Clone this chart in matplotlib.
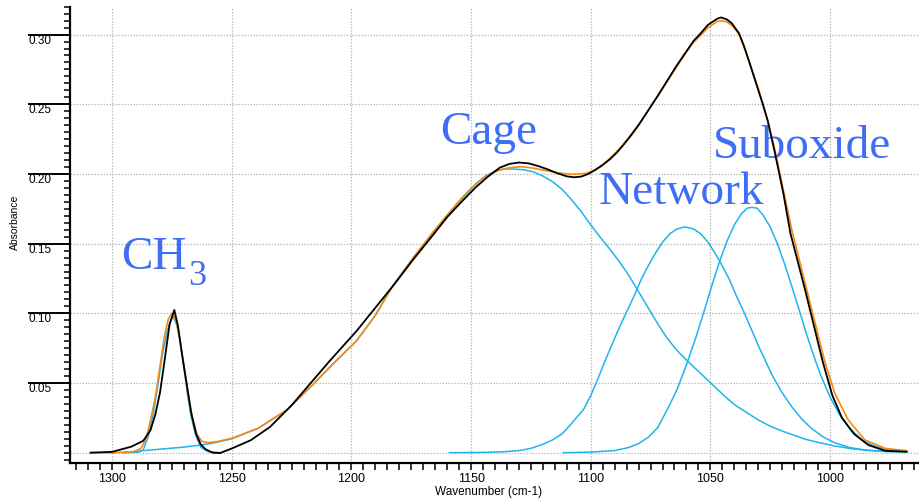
import matplotlib
matplotlib.use("Agg")
import matplotlib.pyplot as plt
from matplotlib.ticker import MultipleLocator, FixedLocator, FormatStrFormatter

# measured spectrum (black)
wn_meas = [1309, 1300, 1292, 1287, 1284, 1282, 1280, 1278, 1276, 1274, 1272.5, 1271,
           1269, 1267, 1265, 1263, 1261, 1258, 1255, 1250, 1242, 1234, 1225, 1217,
           1209, 1198, 1190, 1182, 1174, 1166, 1160, 1154, 1148, 1143, 1138, 1134,
           1130, 1126, 1122, 1118, 1114, 1110, 1107, 1104, 1101, 1098, 1095, 1092,
           1089, 1086, 1083, 1080, 1076, 1072, 1068, 1064, 1060, 1057, 1054,
           1051, 1047, 1045.5, 1043, 1041, 1038, 1036, 1034, 1032, 1030, 1028, 1026,
           1023, 1019.5, 1016.5, 1013, 1010, 1006, 1003, 999, 995, 990, 984, 977, 968]
abs_meas = [0.0, 0.0006, 0.0043, 0.0085, 0.016, 0.027, 0.043, 0.067, 0.092, 0.1024,
            0.091, 0.073, 0.051, 0.029, 0.014, 0.006, 0.0025, 0.0, -0.0003, 0.003,
            0.009, 0.0185, 0.034, 0.050, 0.066, 0.087, 0.104, 0.121, 0.139, 0.156,
            0.169, 0.180, 0.1905, 0.198, 0.2045, 0.2072, 0.2082, 0.2076, 0.2057, 0.2033,
            0.2005, 0.1983, 0.1976, 0.1981, 0.200, 0.203, 0.2065, 0.2105, 0.2155, 0.2215,
            0.228, 0.235, 0.2455, 0.256, 0.267, 0.278, 0.288, 0.2955, 0.301,
            0.307, 0.3115, 0.3123, 0.3108, 0.308, 0.3008, 0.292, 0.2817, 0.271, 0.2602,
            0.2495, 0.238, 0.2148, 0.186, 0.157, 0.134, 0.114, 0.086, 0.065, 0.041,
            0.025, 0.0135, 0.0055, 0.0014, 0.0007]

# fitted sum (orange)
wn_fit = [1309, 1299, 1291, 1288, 1286, 1284.5, 1282, 1280, 1278, 1276.5, 1275, 1273.5,
          1272, 1270.5, 1268.5, 1266.5, 1264.5, 1262.5, 1260, 1256, 1250, 1239, 1227,
          1217, 1207.5, 1198, 1190, 1183, 1175, 1166, 1160, 1154, 1150, 1146, 1142,
          1138, 1134, 1129, 1124, 1120, 1116, 1112, 1108, 1105, 1102, 1099, 1096, 1093,
          1090, 1087, 1083.5, 1080, 1076, 1072, 1068, 1064, 1060, 1057, 1054, 1051,
          1047, 1045.5, 1043, 1041, 1039.5, 1038, 1036, 1034, 1032, 1030, 1028, 1026,
          1023, 1019.5, 1016, 1012.5, 1009, 1005.5, 1002, 998, 992.4, 985.4, 977, 968]
abs_fit = [0.0, 0.0, 0.0007, 0.003, 0.009, 0.019, 0.039, 0.062, 0.085, 0.096, 0.100,
           0.096, 0.085, 0.068, 0.045, 0.026, 0.013, 0.0082, 0.0072, 0.008, 0.0103,
           0.0175, 0.0306, 0.0473, 0.064, 0.080, 0.0985, 0.119, 0.138, 0.158, 0.1705,
           0.1825, 0.1897, 0.1955, 0.200, 0.2028, 0.2045, 0.2052, 0.2042, 0.2028,
           0.2015, 0.2004, 0.1998, 0.1999, 0.2005, 0.2022, 0.205, 0.2095, 0.2145,
           0.220, 0.2275, 0.2355, 0.2455, 0.256, 0.2665, 0.277, 0.2875, 0.2945, 0.2995,
           0.305, 0.3095, 0.310, 0.309, 0.3065, 0.3035, 0.300, 0.2915, 0.2815, 0.2715,
           0.2615, 0.250, 0.238, 0.217, 0.1885, 0.160, 0.136, 0.112, 0.088, 0.0641,
           0.0426, 0.0235, 0.0091, 0.0031, 0.0014]

# fitted components (cyan)
wn_ch3 = [1295, 1289, 1287, 1285, 1283, 1281, 1279, 1277, 1275.5, 1274.5, 1273, 1271.5,
          1270, 1268.5, 1267, 1265, 1263, 1260, 1255]
abs_ch3 = [0.0, 0.0003, 0.002, 0.011, 0.026, 0.047, 0.070, 0.087, 0.095, 0.0975, 0.092,
           0.079, 0.061, 0.042, 0.026, 0.012, 0.004, 0.0008, 0.0]

wn_cage = [1295.5, 1290, 1280, 1270, 1263, 1258, 1250, 1239, 1227, 1217, 1207.5, 1198,
           1190, 1183, 1175, 1166, 1161, 1157, 1152, 1148, 1144, 1140, 1136, 1132, 1128,
           1124, 1120, 1116, 1112, 1108, 1104, 1100, 1096, 1092, 1088, 1084, 1080, 1076,
           1072, 1068, 1064, 1060, 1056, 1052, 1048, 1044, 1040, 1035, 1030, 1025, 1020,
           1015, 1010, 1004, 998, 990, 980, 968]
abs_cage = [0.0, 0.001, 0.0025, 0.004, 0.0055, 0.0068, 0.0100, 0.0175, 0.0306, 0.0473,
            0.064, 0.080, 0.0985, 0.119, 0.138, 0.158, 0.168, 0.1765, 0.1855, 0.193,
            0.1985, 0.2022, 0.2036, 0.2035, 0.2030, 0.2015, 0.1985, 0.1945, 0.189,
            0.1815, 0.173, 0.1635, 0.1545, 0.146, 0.137, 0.127, 0.1155, 0.104, 0.0925,
            0.082, 0.0735, 0.0665, 0.060, 0.0535, 0.047, 0.0405, 0.0345, 0.029, 0.0235,
            0.019, 0.0155, 0.0125, 0.0095, 0.007, 0.0048, 0.0026, 0.0012, 0.0007]

wn_net = [1159, 1145, 1136, 1130, 1125, 1120, 1116, 1112, 1109, 1106, 1103, 1100, 1097,
          1094, 1091, 1088, 1085, 1082, 1079, 1076, 1073, 1070, 1067, 1064, 1060.6, 1057,
          1054, 1051, 1048, 1045, 1042, 1039, 1036, 1033, 1030, 1027, 1024, 1020, 1016,
          1012, 1008, 1003, 998, 992, 985, 977, 968]
abs_net = [0.0, 0.0002, 0.0007, 0.0015, 0.0031, 0.006, 0.0091, 0.0135, 0.019, 0.025,
           0.031, 0.041, 0.053, 0.066, 0.078, 0.090, 0.101, 0.112, 0.124, 0.134, 0.143,
           0.151, 0.157, 0.1605, 0.162, 0.1605, 0.157, 0.151, 0.143, 0.134, 0.124,
           0.112, 0.101, 0.089, 0.077, 0.066, 0.055, 0.043, 0.033, 0.0245, 0.0178,
           0.0114, 0.0071, 0.0038, 0.0017, 0.0008, 0.0005]

wn_sub = [1111.4, 1100, 1090, 1084, 1080, 1076, 1072, 1068, 1064, 1060, 1056, 1052, 1049,
          1046, 1043, 1040, 1037, 1034.5, 1032.7, 1030.5, 1028, 1025, 1022, 1019, 1016,
          1013, 1010, 1007, 1004, 1000, 996, 992, 987, 982, 975, 968]
abs_sub = [0.0, 0.0004, 0.0015, 0.0038, 0.0065, 0.011, 0.018, 0.031, 0.045, 0.063,
           0.083, 0.105, 0.122, 0.138, 0.152, 0.1635, 0.1715, 0.1755, 0.176, 0.1755,
           0.1705, 0.162, 0.150, 0.1355, 0.1195, 0.103, 0.086, 0.0705, 0.056, 0.040,
           0.0272, 0.0178, 0.0098, 0.005, 0.0018, 0.0008]

CYAN = "#1eb4f0"
ORANGE = "#f7890f"
LABEL_BLUE = "#3d6ef5"

plt.rcParams["font.family"] = ["Liberation Sans", "DejaVu Sans"]

fig = plt.figure(figsize=(9.2, 5.01), dpi=100)
ax = fig.add_axes([70 / 920, 1 - 463 / 501, 850 / 920, (463 - 6.7) / 501])

# components
for wn, a in [(wn_cage, abs_cage), (wn_net, abs_net), (wn_sub, abs_sub), (wn_ch3, abs_ch3)]:
    ax.plot(wn, a, color=CYAN, lw=1.1, zorder=2)
ax.plot(wn_fit, abs_fit, color=ORANGE, lw=1.2, zorder=3)
ax.plot(wn_meas, abs_meas, color="black", lw=1.3, zorder=4)

ax.set_xlim(1317.6, 962.4)
ax.set_ylim(-0.0074, 0.32)

# axes styling
for s in ["top", "right"]:
    ax.spines[s].set_visible(False)
ax.spines["left"].set_linewidth(1.6)
ax.spines["bottom"].set_linewidth(1.6)

ax.xaxis.set_major_locator(MultipleLocator(50))
ax.xaxis.set_minor_locator(MultipleLocator(5))
ax.tick_params(axis="x", which="both", direction="out", length=5, width=1.1,
               labelsize=9, pad=2.5)

ax.yaxis.set_major_locator(FixedLocator([0.05, 0.10, 0.15, 0.20, 0.25, 0.30]))
ax.yaxis.set_minor_locator(MultipleLocator(0.005))
ax.yaxis.set_major_formatter(FormatStrFormatter("%.2f"))
ax.tick_params(axis="y", which="major", direction="out", length=30, width=1.4,
               labelsize=8.5, pad=-16.5)
ax.tick_params(axis="y", which="minor", direction="out", length=4, width=1.1)
for lab in ax.get_yticklabels():
    lab.set_verticalalignment("top")

grid_kw = dict(color="#bdbdbd", lw=0.9, ls=(0, (1.2, 1.2)))
ax.grid(True, which="major", **grid_kw)
ax.axhline(0, zorder=0.5, **grid_kw)
ax.set_axisbelow(True)

fig.text(15 / 920, 1 - 222 / 501, "Absorbance", rotation=90, fontsize=7.5,
         ha="center", va="center")
fig.text(489 / 920, 1 - 492 / 501, "Wavenumber (cm-1)", fontsize=8.5,
         ha="center", va="center")

# peak labels
lab_kw = dict(color=LABEL_BLUE, fontsize=34, family=["Liberation Serif", "DejaVu Serif"],
              va="baseline", ha="left")
ax.text(1163, 0.2215, "Cage", **lab_kw)
ax.text(1096.5, 0.1784, "Network", **lab_kw)
ax.text(1049, 0.2112, "Suboxide", **lab_kw)
ax.text(1296.3, 0.1316, "CH", **lab_kw)
ax.text(1268.3, 0.1203, "3", **{**lab_kw, "fontsize": 26})

fig.savefig("out.png", dpi=100)
